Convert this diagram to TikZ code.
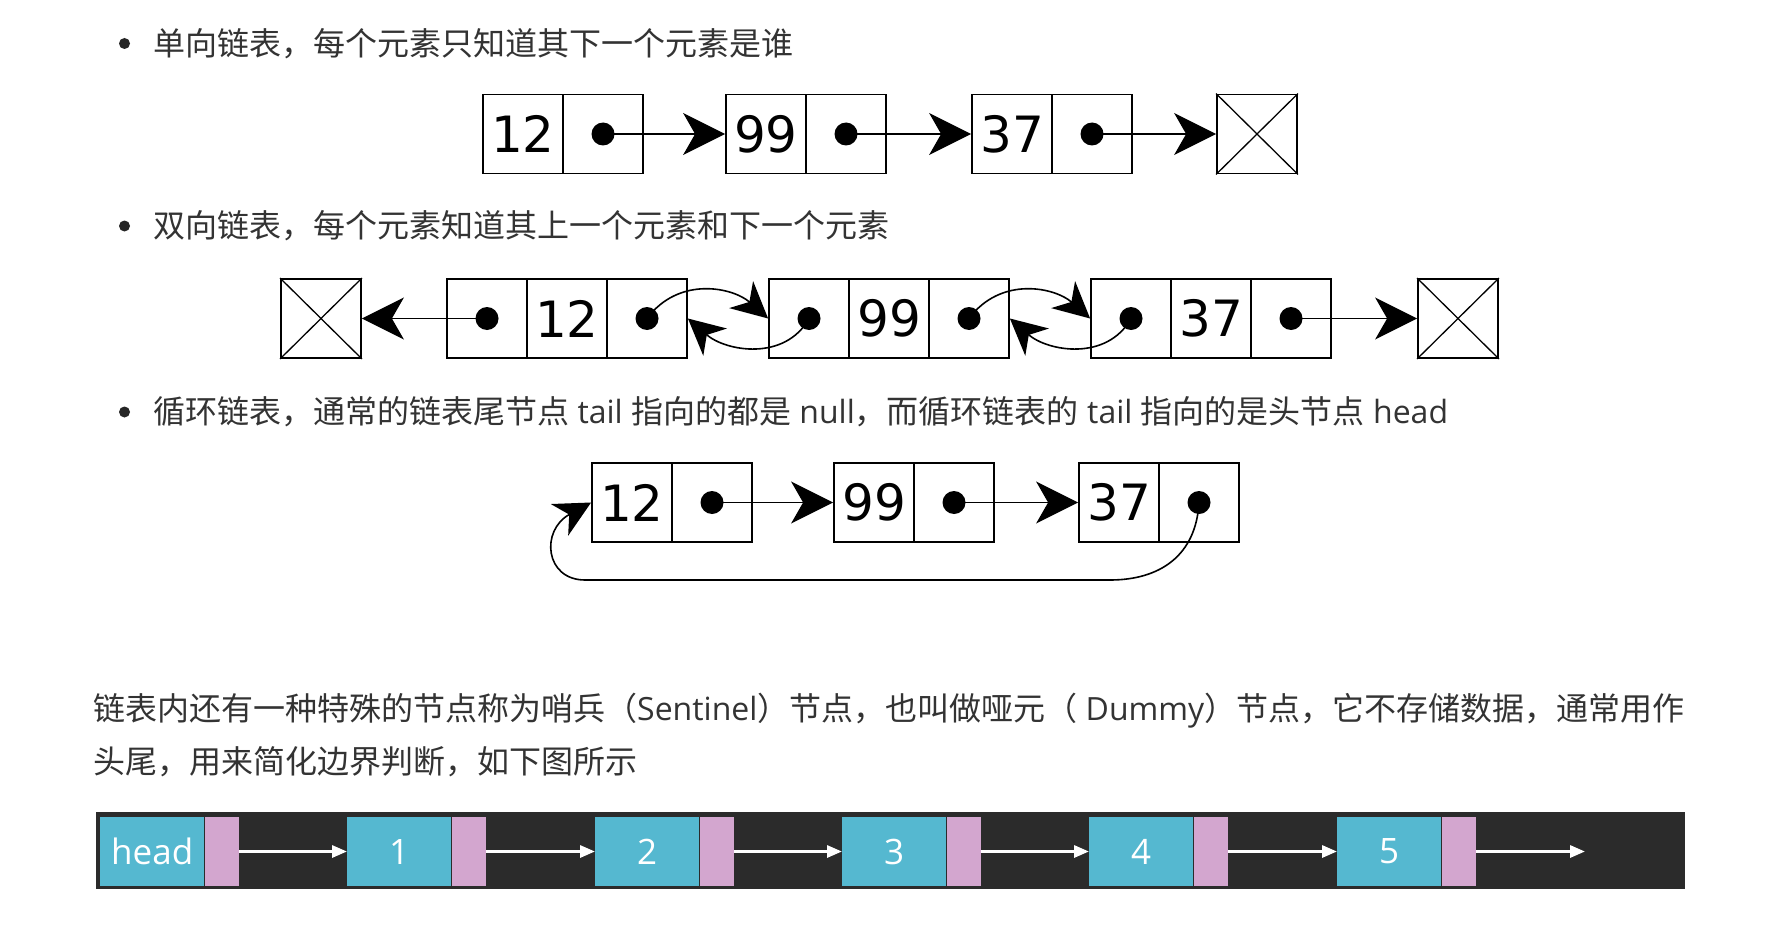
\documentclass[tikz,border=0pt]{standalone}
\usepackage{fontspec}
\setmainfont{Open Sans}
\newfontfamily\cjk{Noto Sans CJK SC}
\newfontfamily\vera{DejaVu Sans}
\usetikzlibrary{arrows.meta}
\definecolor{txtgray}{HTML}{333333}
\definecolor{bardark}{HTML}{2B2B2B}
\definecolor{cellcyan}{HTML}{55B8D0}
\definecolor{cellpink}{HTML}{D3A6CF}
\tikzset{
  cell/.style={draw=black, line width=1.8pt, minimum width=80pt, minimum height=79pt, inner sep=0pt, font=\vera\fontsize{50}{50}\selectfont},
  ptr/.style={circle, fill=black, minimum size=23pt, inner sep=0pt},
  crossline/.style={line width=1.3pt},
  bigarrow/.style={line width=1.6pt, -{Stealth[length=42pt,width=42pt,inset=12pt]}},
  curvearrow/.style={line width=1.6pt, -{Stealth[length=36pt,width=36pt,inset=11pt]}},
  bullettext/.style={anchor=west, inner sep=0pt, text=txtgray, font=\fontsize{32}{38}\selectfont},
  bulletdot/.style={circle, fill=black!85, minimum size=11pt, inner sep=0pt},
  cyanbox/.style={fill=cellcyan, minimum width=104pt, minimum height=69pt, inner sep=0pt, anchor=west, text=white, font=\fontsize{35}{35}\selectfont},
  pinkbox/.style={fill=cellpink, minimum width=34pt, minimum height=69pt, inner sep=0pt, anchor=west},
  whitearrow/.style={draw=white, line width=3pt, -{Triangle[length=15pt,width=12pt]}},
}
\begin{document}
\begin{tikzpicture}[x=1pt,y=1pt]
\fill[white] (0,0) rectangle (1774,-944);
\useasboundingbox (0,0) rectangle (1774,-944);

% ---------- bullet texts ----------
\node[bulletdot] (bd1) at (124.5,-43.5) {};
\node[bullettext] (t1) at (153,-43.5) {{\cjk 单向链表，每个元素只知道其下一个元素是谁}};
\node[bulletdot] (bd2) at (124.5,-226) {};
\node[bullettext] (t2) at (153,-226) {{\cjk 双向链表，每个元素知道其上一个元素和下一个元素}};
\node[bulletdot] (bd3) at (124.5,-412) {};
\node[bullettext] (t3) at (153,-412) {{\cjk 循环链表，通常的链表尾节点} tail {\cjk 指向的都是} null{\cjk ，而循环链表的} tail {\cjk 指向的是头节点} head};

% ---------- row 1: singly linked ----------
\node[cell] (r1a) at (523,-134) {12};
\node[cell] (r1ap) at (603,-134) {};
\node[ptr] (r1ad) at (r1ap) {};
\node[cell] (r1b) at (766,-134) {99};
\node[cell] (r1bp) at (846,-134) {};
\node[ptr] (r1bd) at (r1bp) {};
\node[cell] (r1c) at (1012,-134) {37};
\node[cell] (r1cp) at (1092,-134) {};
\node[ptr] (r1cd) at (r1cp) {};
\node[cell] (r1n) at (1257,-134) {};
\draw[crossline] (r1n.north west) -- (r1n.south east) (r1n.north east) -- (r1n.south west);
\draw[bigarrow] (r1ad.center) -- (r1b.west);
\draw[bigarrow] (r1bd.center) -- (r1c.west);
\draw[bigarrow] (r1cd.center) -- (r1n.west);

% ---------- row 2: doubly linked ----------
\node[cell] (r2nl) at (321,-318.5) {};
\draw[crossline] (r2nl.north west) -- (r2nl.south east) (r2nl.north east) -- (r2nl.south west);
\node[cell] (r2al) at (487,-318.5) {};
\node[ptr] (r2ald) at (r2al) {};
\node[cell] (r2a) at (567,-318.5) {12};
\node[cell] (r2ar) at (647,-318.5) {};
\node[ptr] (r2ard) at (r2ar) {};
\node[cell] (r2bl) at (809,-318.5) {};
\node[ptr] (r2bld) at (r2bl) {};
\node[cell] (r2b) at (889,-318.5) {99};
\node[cell] (r2br) at (969,-318.5) {};
\node[ptr] (r2brd) at (r2br) {};
\node[cell] (r2cl) at (1131,-318.5) {};
\node[ptr] (r2cld) at (r2cl) {};
\node[cell] (r2c) at (1211,-318.5) {37};
\node[cell] (r2cr) at (1291,-318.5) {};
\node[ptr] (r2crd) at (r2cr) {};
\node[cell] (r2nr) at (1458,-318.5) {};
\draw[crossline] (r2nr.north west) -- (r2nr.south east) (r2nr.north east) -- (r2nr.south west);

\draw[bigarrow] (r2ald.center) -- (r2nl.east);
\draw[curvearrow] (r2ard.center) .. controls +(32,43) and +(-35,31) .. (r2bl.west);
\draw[curvearrow] (r2bld.center) .. controls +(-24,-43) and +(38,-33) .. (r2ar.east);
\draw[curvearrow] (r2brd.center) .. controls +(32,43) and +(-35,31) .. (r2cl.west);
\draw[curvearrow] (r2cld.center) .. controls +(-24,-43) and +(38,-33) .. (r2br.east);
\draw[bigarrow] (r2crd.center) -- (r2nr.west);

% ---------- row 3: circular ----------
\node[cell] (r3a) at (632,-502.5) {12};
\node[cell] (r3ap) at (712,-502.5) {};
\node[ptr] (r3ad) at (r3ap) {};
\node[cell] (r3b) at (874,-502.5) {99};
\node[cell] (r3bp) at (954,-502.5) {};
\node[ptr] (r3bd) at (r3bp) {};
\node[cell] (r3c) at (1119,-502.5) {37};
\node[cell] (r3cp) at (1199,-502.5) {};
\node[ptr] (r3cd) at (r3cp) {};
\draw[bigarrow] (r3ad.center) -- (r3b.west);
\draw[bigarrow] (r3bd.center) -- (r3c.west);
\coordinate (loopR) at (1110,-580);
\coordinate (loopL) at (585,-580);
\draw[curvearrow] (r3cd.center) .. controls +(-3,-53) and +(50,0) .. (loopR) -- (loopL) .. controls +(-40,0) and +(-51,-28) .. (r3a.west);

% ---------- paragraph ----------
\node[bullettext] (p1) at (93,-710.5) {{\cjk 链表内还有一种特殊的节点称为哨兵（}Sentinel{\cjk ）节点，也叫做哑元（} Dummy{\cjk ）节点，它不存储数据，通常用作}};
\node[bullettext] (p2) at (93,-761.5) {{\cjk 头尾，用来简化边界判断，如下图所示}};

% ---------- sentinel bar ----------
\node[fill=bardark, minimum width=1589pt, minimum height=77pt, inner sep=0pt, anchor=north west] (bar) at (96,-812) {};
\node[cyanbox] (c0) at (100,-851.5) {head};
\node[pinkbox] (q0) at (c0.east) {};
\node[cyanbox] (c1) at (347,-851.5) {1};
\node[pinkbox] (q1) at (c1.east) {};
\node[cyanbox] (c2) at (595,-851.5) {2};
\node[pinkbox] (q2) at (c2.east) {};
\node[cyanbox] (c3) at (842,-851.5) {3};
\node[pinkbox] (q3) at (c3.east) {};
\node[cyanbox] (c4) at (1089,-851.5) {4};
\node[pinkbox] (q4) at (c4.east) {};
\node[cyanbox] (c5) at (1337,-851.5) {5};
\node[pinkbox] (q5) at (c5.east) {};
\coordinate (tailend) at (1585,-851.5);
\draw[whitearrow] (q0.east) -- (c1.west);
\draw[whitearrow] (q1.east) -- (c2.west);
\draw[whitearrow] (q2.east) -- (c3.west);
\draw[whitearrow] (q3.east) -- (c4.west);
\draw[whitearrow] (q4.east) -- (c5.west);
\draw[whitearrow] (q5.east) -- (tailend);
\end{tikzpicture}
\end{document}
